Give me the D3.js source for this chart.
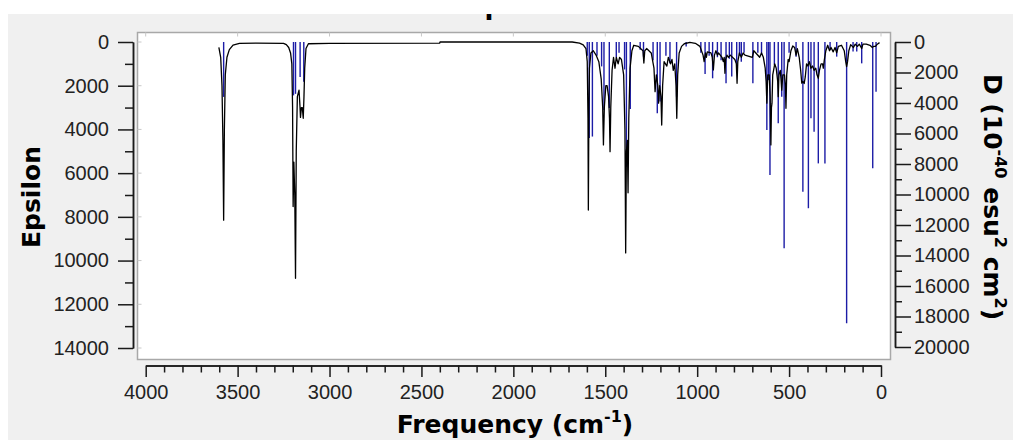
<!DOCTYPE html>
<html>
<head>
<meta charset="utf-8">
<script src="https://cdn.jsdelivr.net/npm/d3@7"></script>
<style>
  html, body { margin: 0; padding: 0; background: #ffffff; }
  svg { display: block; }
</style>
</head>
<body>
<svg id="chart" width="1013" height="440"></svg>
<script>
// ---------------- DATA ----------------
const titleText = "IR Spectrum";
const xLabel = "Frequency (cm";
const yLeftLabel = "Epsilon";
const xTicks = [4000, 3500, 3000, 2500, 2000, 1500, 1000, 500, 0];
const yLeftTicks = [0, 2000, 4000, 6000, 8000, 10000, 12000, 14000];
const yRightTicks = [0, 2000, 4000, 6000, 8000, 10000, 12000, 14000, 16000, 18000, 20000];

// broadened spectrum: [frequency cm-1, epsilon]
const spectrumPoints = [
  [3602, 250], [3592, 700], [3585, 2000], [3580, 4500], [3576, 8150], [3572, 4000], [3567, 1500],
  [3558, 700], [3545, 350], [3525, 140], [3490, 60], [3400, 55], [3250, 60], [3235, 120], [3222, 250],
  [3212, 500], [3205, 1000], [3201, 3000], [3198, 7530], [3194, 5500], [3189, 7000], [3185, 10810],
  [3181, 5000], [3175, 2500], [3166, 2200], [3161, 2900], [3158, 3450], [3153, 3000], [3148, 3000],
  [3143, 3490], [3139, 2500], [3135, 1200], [3128, 300], [3115, 80], [3000, 60], [2401, 55], [2399, 0],
  [1680, 0], [1640, 50], [1620, 130], [1605, 300], [1598, 900], [1594, 3500], [1592, 7690], [1589, 3000],
  [1586, 1200], [1578, 500], [1565, 400], [1550, 600], [1535, 900], [1522, 1700], [1514, 3000],
  [1510, 4710], [1505, 3000], [1497, 2000], [1490, 2000], [1482, 2500], [1477, 3500], [1474, 5020],
  [1470, 3000], [1463, 1300], [1455, 700], [1447, 1200], [1440, 700], [1430, 1000], [1422, 700],
  [1412, 800], [1400, 1500], [1393, 4000], [1389, 9650], [1385, 5000], [1380, 4500], [1376, 6900],
  [1372, 3500], [1365, 1200], [1355, 400], [1345, 150], [1320, 200], [1295, 400], [1290, 960],
  [1285, 400], [1275, 300], [1250, 500], [1235, 1200], [1229, 2270], [1222, 1500], [1214, 2000],
  [1210, 2800], [1204, 2000], [1197, 2500], [1193, 3800], [1188, 2000], [1180, 900], [1165, 1100],
  [1157, 700], [1145, 1000], [1137, 800], [1130, 1300], [1122, 1000], [1115, 2000], [1111, 3490],
  [1106, 1500], [1098, 500], [1085, 200], [1070, 80], [1040, 20], [1010, 60], [985, 200], [968, 600],
  [962, 900], [955, 500], [950, 700], [945, 450], [925, 500], [918, 700], [912, 1280], [906, 600],
  [898, 400], [890, 600], [884, 500], [865, 700], [858, 900], [853, 700], [849, 1430], [845, 800],
  [838, 600], [830, 700], [820, 600], [795, 800], [787, 1000], [783, 1890], [779, 900], [770, 500],
  [760, 700], [750, 500], [740, 600], [700, 700], [692, 400], [660, 700], [650, 500], [640, 700],
  [630, 1200], [625, 1800], [621, 2800], [616, 1500], [608, 1500], [603, 2500], [599, 4710], [596, 3000],
  [593, 2800], [589, 1500], [578, 1000], [570, 1200], [562, 1800], [559, 2500], [555, 1500], [548, 1300],
  [544, 1700], [540, 2200], [534, 1500], [525, 1500], [520, 2000], [517, 3030], [513, 1500], [505, 800],
  [500, 900], [490, 400], [480, 180], [470, 250], [462, 600], [455, 300], [445, 700], [437, 1300],
  [431, 1880], [425, 1800], [418, 1900], [412, 1600], [405, 1000], [398, 1100], [390, 900], [381, 1200],
  [372, 1100], [364, 1300], [355, 1200], [348, 1500], [341, 1660], [335, 1300], [326, 1000], [318, 1000],
  [314, 1200], [308, 800], [300, 400], [290, 150], [280, 400], [272, 250], [260, 450], [250, 250],
  [241, 500], [232, 200], [215, 150], [200, 400], [192, 900], [187, 1130], [182, 900], [175, 400],
  [165, 120], [150, 250], [140, 100], [128, 200], [118, 100], [105, 300], [98, 100], [80, 100],
  [60, 150], [47, 250], [40, 200], [30, 200], [20, 100], [8, 30]
];

// sticks: [frequency cm-1, D (1e-40 esu^2 cm^2)]
const stickPoints = [
  [3576, 3600], [3196, 3500], [3185, 3400], [3160, 2300], [3140, 2600],
  [1598, 900], [1587, 6300], [1570, 6200], [1545, 900], [1520, 1600], [1507, 4460], [1478, 4330],
  [1440, 1000], [1425, 700], [1395, 1800], [1385, 8180], [1364, 4400], [1310, 500],
  [1292, 960], [1240, 1200], [1217, 4680], [1202, 3900], [1170, 900], [1148, 1400], [1112, 3590],
  [1060, 300], [980, 700], [957, 2100], [935, 900], [916, 2380], [890, 1000], [870, 1200],
  [843, 2710], [825, 1100], [812, 2270], [785, 1840], [770, 900], [760, 1290], [745, 700], [697, 2710],
  [670, 700], [650, 850], [621, 5770], [612, 2500], [604, 8720], [580, 1500],
  [559, 5330], [540, 3590], [527, 13530], [500, 700], [462, 960], [425, 9820], [395, 10900], [381, 5000],
  [364, 5880], [341, 7960], [305, 7960], [277, 525], [241, 960], [187, 18450], [152, 630], [132, 630],
  [105, 1400], [45, 8280], [27, 3260]
];

// ---------------- DRAW ----------------
const svg = d3.select("#chart");
const W = 1013, H = 440;

svg.append("rect").attr("x", 0).attr("y", 0).attr("width", W).attr("height", H).attr("fill", "#ffffff");
svg.append("rect").attr("x", 8).attr("y", 14).attr("width", W - 8).attr("height", H - 14).attr("fill", "#f0f0f0");

const x = d3.scaleLinear().domain([4000, 0]).range([145.7, 881]);
const yL = d3.scaleLinear().domain([0, 14000]).range([42, 348]);
const yR = d3.scaleLinear().domain([0, 20000]).range([42, 347]);

// plot area
const plot = { x0: 137.5, y0: 32.5, x1: 890.5, y1: 359.5 };
svg.append("rect")
  .attr("x", plot.x0).attr("y", plot.y0)
  .attr("width", plot.x1 - plot.x0).attr("height", plot.y1 - plot.y0)
  .attr("fill", "#ffffff").attr("stroke", "#a8a8a8").attr("stroke-width", 1.5);

// faint inner ticks
const inner = svg.append("g").attr("stroke", "#c8c8c8").attr("stroke-width", 1);
inner.selectAll("line.tx").data(xTicks).join("line")
  .attr("x1", d => x(d)).attr("x2", d => x(d)).attr("y1", plot.y0).attr("y2", plot.y0 + 4);
inner.selectAll("line.ty").data(yLeftTicks).join("line")
  .attr("x1", plot.x0).attr("x2", plot.x0 + 4).attr("y1", d => yL(d)).attr("y2", d => yL(d));

// title (its upper part lies above the captured window, as in the reference)
svg.append("clipPath").attr("id", "titleClip")
  .append("rect").attr("x", 0).attr("y", 14).attr("width", W).attr("height", 20);
svg.append("text")
  .attr("clip-path", "url(#titleClip)")
  .attr("x", 517).attr("y", 14)
  .attr("text-anchor", "middle")
  .attr("font-family", "DejaVu Sans, sans-serif").attr("font-weight", "bold").attr("font-size", 26)
  .attr("fill", "#000")
  .text(titleText);

// sticks
const gPlot = svg.append("g");
gPlot.selectAll("line.stick").data(stickPoints).join("line")
  .attr("class", "stick")
  .attr("x1", d => x(d[0])).attr("x2", d => x(d[0]))
  .attr("y1", yR(0)).attr("y2", d => yR(d[1]))
  .attr("stroke", "#1c1ca6").attr("stroke-width", 1.4);

// spectrum curve
gPlot.append("path")
  .datum(spectrumPoints)
  .attr("fill", "none").attr("stroke", "#000").attr("stroke-width", 1.3)
  .attr("stroke-linejoin", "round")
  .attr("d", d3.line().x(d => x(d[0])).y(d => yL(d[1])));

// axes
const fontFam = "Liberation Sans, Arial, sans-serif";
function styleAxis(g) {
  g.selectAll("path.domain").attr("stroke", "#1a1a1a").attr("stroke-width", 1.5);
  g.selectAll(".tick line").attr("stroke", "#1a1a1a").attr("stroke-width", 1.5);
  g.selectAll(".tick text").attr("font-family", fontFam).attr("font-size", 20).attr("fill", "#222");
}

// left axis
const leftMinor = d3.range(1000, 14000, 2000);
const gLm = svg.append("g").attr("transform", "translate(133,0)")
  .call(d3.axisLeft(yL).tickValues(leftMinor).tickSize(8).tickSizeOuter(0).tickFormat(""));
styleAxis(gLm);
const gL = svg.append("g").attr("transform", "translate(133,0)")
  .call(d3.axisLeft(yL).tickValues(yLeftTicks).tickSize(15).tickSizeOuter(0).tickPadding(9).tickFormat(d3.format("d")));
styleAxis(gL);

// bottom axis
const bottomMinor = d3.range(100, 4000, 100).filter(v => v % 500 !== 0);
const gBm = svg.append("g").attr("transform", "translate(0,365.5)")
  .call(d3.axisBottom(x).tickValues(bottomMinor).tickSize(7).tickSizeOuter(0).tickFormat(""));
styleAxis(gBm);
const gB = svg.append("g").attr("transform", "translate(0,365.5)")
  .call(d3.axisBottom(x).tickValues(xTicks).tickSize(11.5).tickSizeOuter(0).tickPadding(8).tickFormat(d3.format("d")));
styleAxis(gB);

// right axis
const rightMinor = d3.range(1000, 20000, 2000);
const gRm = svg.append("g").attr("transform", "translate(895,0)")
  .call(d3.axisRight(yR).tickValues(rightMinor).tickSize(7).tickSizeOuter(0).tickFormat(""));
styleAxis(gRm);
const gR = svg.append("g").attr("transform", "translate(895,0)")
  .call(d3.axisRight(yR).tickValues(yRightTicks).tickSize(16).tickSizeOuter(0).tickPadding(3).tickFormat(d3.format("d")));
styleAxis(gR);

// axis titles
const titleFont = "DejaVu Sans, sans-serif";
svg.append("text")
  .attr("transform", "translate(40,197) rotate(-90)")
  .attr("text-anchor", "middle")
  .attr("font-family", titleFont).attr("font-weight", "bold").attr("font-size", 25).attr("fill", "#000")
  .text(yLeftLabel);

const xl = svg.append("text")
  .attr("x", 515).attr("y", 433)
  .attr("text-anchor", "middle")
  .attr("font-family", titleFont).attr("font-weight", "bold").attr("font-size", 25).attr("fill", "#000");
xl.append("tspan").text(xLabel);
xl.append("tspan").attr("font-size", 16).attr("dy", -11).text("-1");
xl.append("tspan").attr("dy", 11).text(")");

const rl = svg.append("text")
  .attr("transform", "translate(984,197) rotate(90)")
  .attr("text-anchor", "middle")
  .attr("font-family", titleFont).attr("font-weight", "bold").attr("font-size", 25).attr("fill", "#000");
rl.append("tspan").text("D (10");
rl.append("tspan").attr("font-size", 16).attr("dy", -11).text("-40");
rl.append("tspan").attr("dy", 11).text(" esu");
rl.append("tspan").attr("font-size", 16).attr("dy", -11).text("2");
rl.append("tspan").attr("dy", 11).text(" cm");
rl.append("tspan").attr("font-size", 16).attr("dy", -11).text("2");
rl.append("tspan").attr("dy", 11).text(")");
</script>
</body>
</html>
